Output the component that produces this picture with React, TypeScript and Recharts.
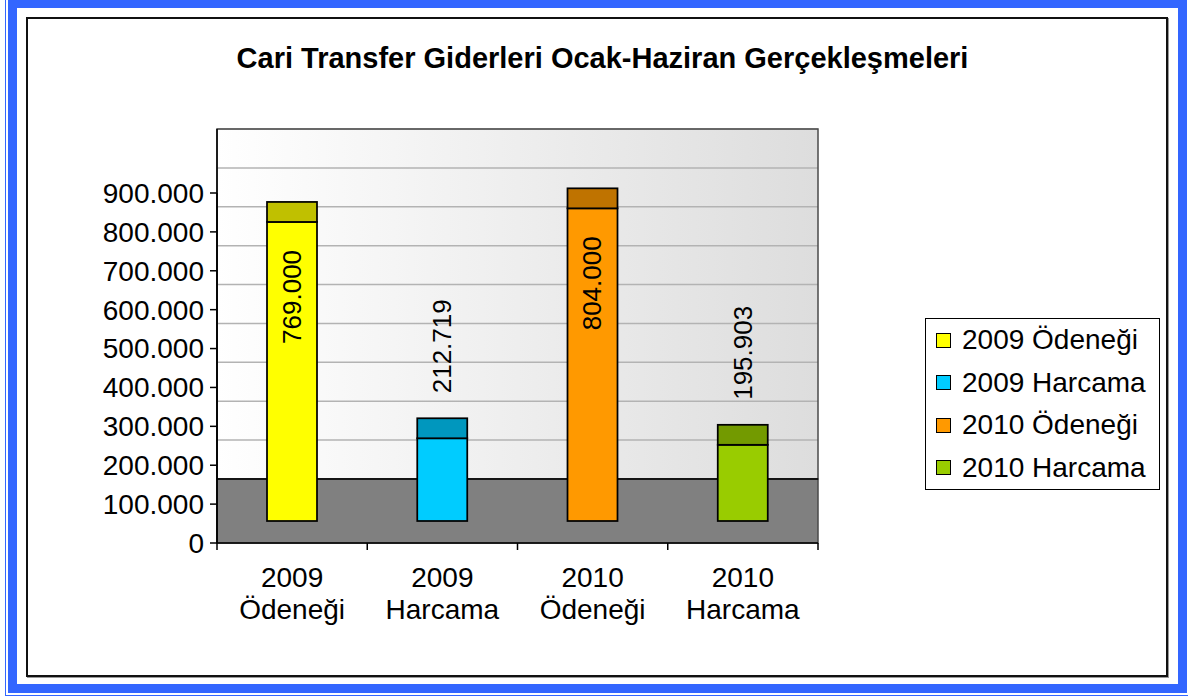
import { Bar, BarChart, Cell, ReferenceArea, XAxis, YAxis } from "recharts";

const FONT = '"Liberation Sans", Arial, sans-serif';

// kategoriler ve değerler (bin TL)
const CATEGORIES = ["2009 Ödeneği", "2009 Harcama", "2010 Ödeneği", "2010 Harcama"];
const VALUES = [769000, 212719, 804000, 195903];
const Y_TICKS = [0, 100000, 200000, 300000, 400000, 500000, 600000, 700000, 800000, 900000];
const Y_MAX = 900000;

// front face / top face colours
const FRONT_COLORS = ["#ffff00", "#00ccff", "#ff9900", "#99cc00"];
const TOP_COLORS = ["#c0c000", "#0097be", "#bf7300", "#739a00"];

const data = CATEGORIES.map((name, i) => ({ name, value: VALUES[i], idx: i }));

const DEPTH = 64; // back wall offset
const LIFT = 22; // bars sit in middle of the floor
const TOP = 20; // top face height

const fmt = (n: number) => String(n).replace(/\B(?=(\d{3})+(?!\d))/g, ".");

function Backdrop(props: any) {
  const { x, y, width, height } = props;
  const base = y + height;
  const wallTop = y - DEPTH;
  const wallBottom = base - DEPTH;
  const n = CATEGORIES.length;
  return (
    <g>
      <defs>
        <linearGradient id="wallGrad" x1="0" y1="0" x2="1" y2="0">
          <stop offset="0%" stopColor="#ffffff" />
          <stop offset="100%" stopColor="#dddddd" />
        </linearGradient>
      </defs>
      <rect x={x} y={wallTop} width={width} height={wallBottom - wallTop} fill="url(#wallGrad)" />
      {Y_TICKS.slice(1).map((t) => {
        const gy = wallBottom - (t / Y_MAX) * height;
        return <line key={t} x1={x} x2={x + width} y1={gy} y2={gy} stroke="#b3b3b3" strokeWidth={1.5} />;
      })}
      <rect x={x} y={wallTop} width={width} height={wallBottom - wallTop} fill="none" stroke="#4a4a4a" strokeWidth={1.5} />
      <rect x={x} y={wallBottom} width={width} height={base - wallBottom} fill="#808080" stroke="#4a4a4a" strokeWidth={1.5} />
      <line x1={x} x2={x + width} y1={wallBottom} y2={wallBottom} stroke="#000" strokeWidth={1.5} />
      <line x1={x} x2={x} y1={wallTop} y2={base} stroke="#000" strokeWidth={1.5} />
      {Array.from({ length: n + 1 }, (_, i) => (
        <line key={i} x1={x + (i * width) / n} x2={x + (i * width) / n} y1={base} y2={base + 7} stroke="#000" strokeWidth={1.5} />
      ))}
    </g>
  );
}

function Bar3D(props: any) {
  const { x, y, width, height, payload } = props;
  const i = payload.idx;
  const fy = y - LIFT;
  const cx = x + width / 2;
  const inside = height > 200;
  const ly = inside ? fy + 28 : fy - TOP - 25;
  return (
    <g>
      <rect x={x} y={fy} width={width} height={height} fill={FRONT_COLORS[i]} stroke="#000" strokeWidth={1.75} />
      <rect x={x} y={fy - TOP} width={width} height={TOP} fill={TOP_COLORS[i]} stroke="#000" strokeWidth={1.75} />
      <text
        x={cx}
        y={ly}
        transform={`rotate(-90 ${cx} ${ly})`}
        textAnchor={inside ? "end" : "start"}
        dominantBaseline="central"
        fontSize={26}
        fontFamily={FONT}
        fill="#000"
      >
        {fmt(payload.value)}
      </text>
    </g>
  );
}

function CatTick(props: any) {
  const { x, y, payload } = props;
  const [a, b] = String(payload.value).split(" ");
  return (
    <text x={x} y={y} textAnchor="middle" fontSize={28} fontFamily={FONT} fill="#000">
      <tspan x={x} dy={36}>{a}</tspan>
      <tspan x={x} dy={32}>{b}</tspan>
    </text>
  );
}

function LegendBox() {
  return (
    <div
      style={{
        position: "absolute",
        left: 925,
        top: 318,
        width: 235,
        height: 172,
        boxSizing: "border-box",
        border: "1.5px solid #000",
        background: "#fff",
        fontFamily: FONT,
        fontSize: 28,
        color: "#000",
      }}
    >
      {CATEGORIES.map((c, i) => (
        <div key={c} style={{ height: 42.5, display: "flex", alignItems: "center", whiteSpace: "nowrap" }}>
          <span
            style={{
              display: "inline-block",
              width: 13,
              height: 13,
              marginLeft: 10,
              marginRight: 11,
              background: FRONT_COLORS[i],
              border: "1.5px solid #000",
            }}
          />
          {c}
        </div>
      ))}
    </div>
  );
}

export default function App() {
  return (
    <div style={{ position: "absolute", left: 0, top: 0, width: 1188, height: 697, background: "#fff", overflow: "hidden" }}>
      <div style={{ position: "absolute", left: 5, top: 0, width: 1, height: 696, background: "#3366ff" }} />
      <div style={{ position: "absolute", left: 5, top: 695, width: 1183, height: 1, background: "#3366ff" }} />
      <div
        style={{
          position: "absolute",
          left: 8,
          top: -1,
          width: 1179,
          height: 694,
          border: "9px solid #3366ff",
          boxSizing: "border-box",
        }}
      />
      <div
        style={{
          position: "absolute",
          left: 26,
          top: 17,
          width: 1142,
          height: 660,
          boxSizing: "border-box",
          border: "2px solid #111",
          boxShadow: "1px 1px 0 #999",
        }}
      />
      <div
        style={{
          position: "absolute",
          left: 0,
          top: 41,
          width: 1205,
          textAlign: "center",
          fontFamily: FONT,
          fontWeight: "bold",
          fontSize: 29,
          lineHeight: "34px",
          color: "#000",
        }}
      >
        Cari Transfer Giderleri Ocak-Haziran Gerçekleşmeleri
      </div>
      <div style={{ position: "absolute", left: 0, top: 0 }}>
        <BarChart width={1188} height={697} data={data} margin={{ top: 193, right: 370, bottom: 74, left: 0 }}>
          <ReferenceArea y1={0} y2={Y_MAX} ifOverflow="visible" shape={(p: any) => <Backdrop {...p} />} />
          <XAxis
            dataKey="name"
            height={80}
            interval={0}
            tickLine={false}
            axisLine={{ stroke: "#000", strokeWidth: 1.5 }}
            tick={<CatTick />}
          />
          <YAxis
            width={217}
            domain={[0, Y_MAX]}
            ticks={Y_TICKS}
            tickFormatter={fmt}
            tickSize={7}
            tickMargin={6}
            axisLine={{ stroke: "#000", strokeWidth: 1.5 }}
            tickLine={{ stroke: "#000", strokeWidth: 1.5 }}
            tick={{ fontSize: 28, fontFamily: FONT, fill: "#000" }}
          />
          <Bar dataKey="value" barSize={50} isAnimationActive={false} shape={(p: any) => <Bar3D {...p} />}>
            {data.map((d) => (
              <Cell key={d.name} fill={FRONT_COLORS[d.idx]} />
            ))}
          </Bar>
        </BarChart>
      </div>
      <LegendBox />
    </div>
  );
}
